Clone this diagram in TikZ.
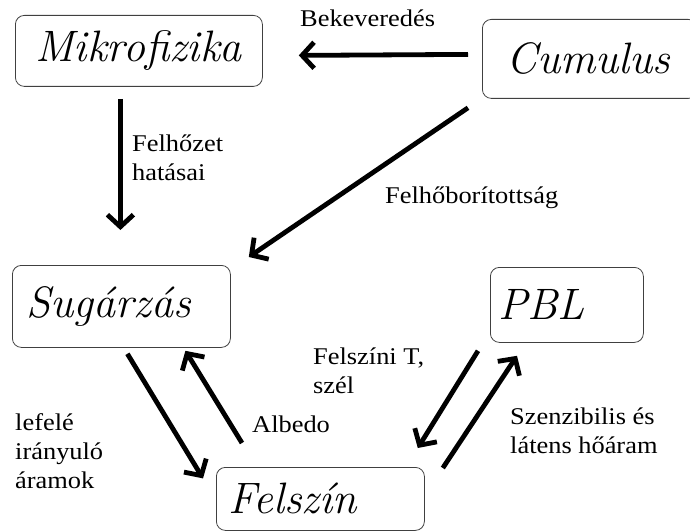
\documentclass[tikz,border=0pt]{standalone}
\usepackage{fontspec}
\newfontfamily\lblfont[FakeStretch=1.1]{Liberation Serif}
\usetikzlibrary{arrows.meta}

\tikzset{
  box/.style={draw=black!75, line width=0.8pt, rounded corners=9pt, anchor=north west,
    inner xsep=14pt, inner ysep=0pt, align=left, text width=#1,
    font=\fontsize{44}{48}\selectfont\itshape},
  lbl/.style={anchor=base west, inner sep=0pt, align=left,
    font=\lblfont\fontsize{24}{29}\selectfont},
  arr/.style={line width=4.8pt, -{Straight Barb[length=12pt,width=26pt]}}
}

\begin{document}
\begin{tikzpicture}[x=1pt,y=-1pt]
    % Khung hình
    \useasboundingbox (0,0) rectangle (690,532);

    % Các hộp
    \node[box=207pt, inner xsep=20pt, minimum height=71pt] (mik) at (15,15) {Mikrofizika};
    \node[box=167pt, inner xsep=24pt, minimum height=79pt] (cum) at (482,19) {Cumulus};
    \node[box=190pt, minimum height=82pt] (sug) at (12,265) {Sugárzás};
    \node[box=137pt, inner xsep=8pt, minimum height=75pt] (pbl) at (490,267) {PBL};
    \node[box=184pt, inner xsep=12pt, minimum height=63pt] (fel) at (216,467) {Felszín};

    % Các mũi tên
    \draw[arr] ([xshift=-14pt,yshift=4.5pt]cum.west) -- ([xshift=36pt,yshift=-4.5pt]mik.east);
    \draw[arr] ([xshift=-18.5pt,yshift=-12pt]mik.south) -- ([xshift=-1pt,yshift=35pt]sug.north);
    \draw[arr] ([xshift=-14pt,yshift=-9pt]cum.south west) -- ([xshift=18pt,yshift=8pt]sug.north east);
    \draw[arr] ([xshift=6pt,yshift=-6pt]sug.south) -- ([xshift=-13pt,yshift=20.5pt]fel.west);
    \draw[arr] ([xshift=26pt,yshift=24pt]fel.north west) -- ([xshift=64pt,yshift=-3pt]sug.south);
    \draw[arr] ([xshift=-12pt,yshift=-8pt]pbl.south west) -- ([xshift=-7pt,yshift=19pt]fel.north east);
    \draw[arr] ([xshift=18pt,yshift=-1pt]fel.north east) -- ([xshift=27pt,yshift=-13pt]pbl.south west);

    % Nhãn (base = dòng cuối)
    \node[lbl] (bek) at (300,27) {Bekeveredés};
    \node[lbl] (felh) at (132,180) {Felhőzet\\hatásai};
    \node[lbl] (borit) at (385,203) {Felhőborítottság};
    \node[lbl] (felsz) at (313,393) {Felszíni T,\\szél};
    \node[lbl] (alb) at (252,432) {Albedo};
    \node[lbl] (lef) at (15,488) {lefelé\\irányuló\\áramok};
    \node[lbl] (szenz) at (510,453) {Szenzibilis és\\látens hőáram};
\end{tikzpicture}
\end{document}
